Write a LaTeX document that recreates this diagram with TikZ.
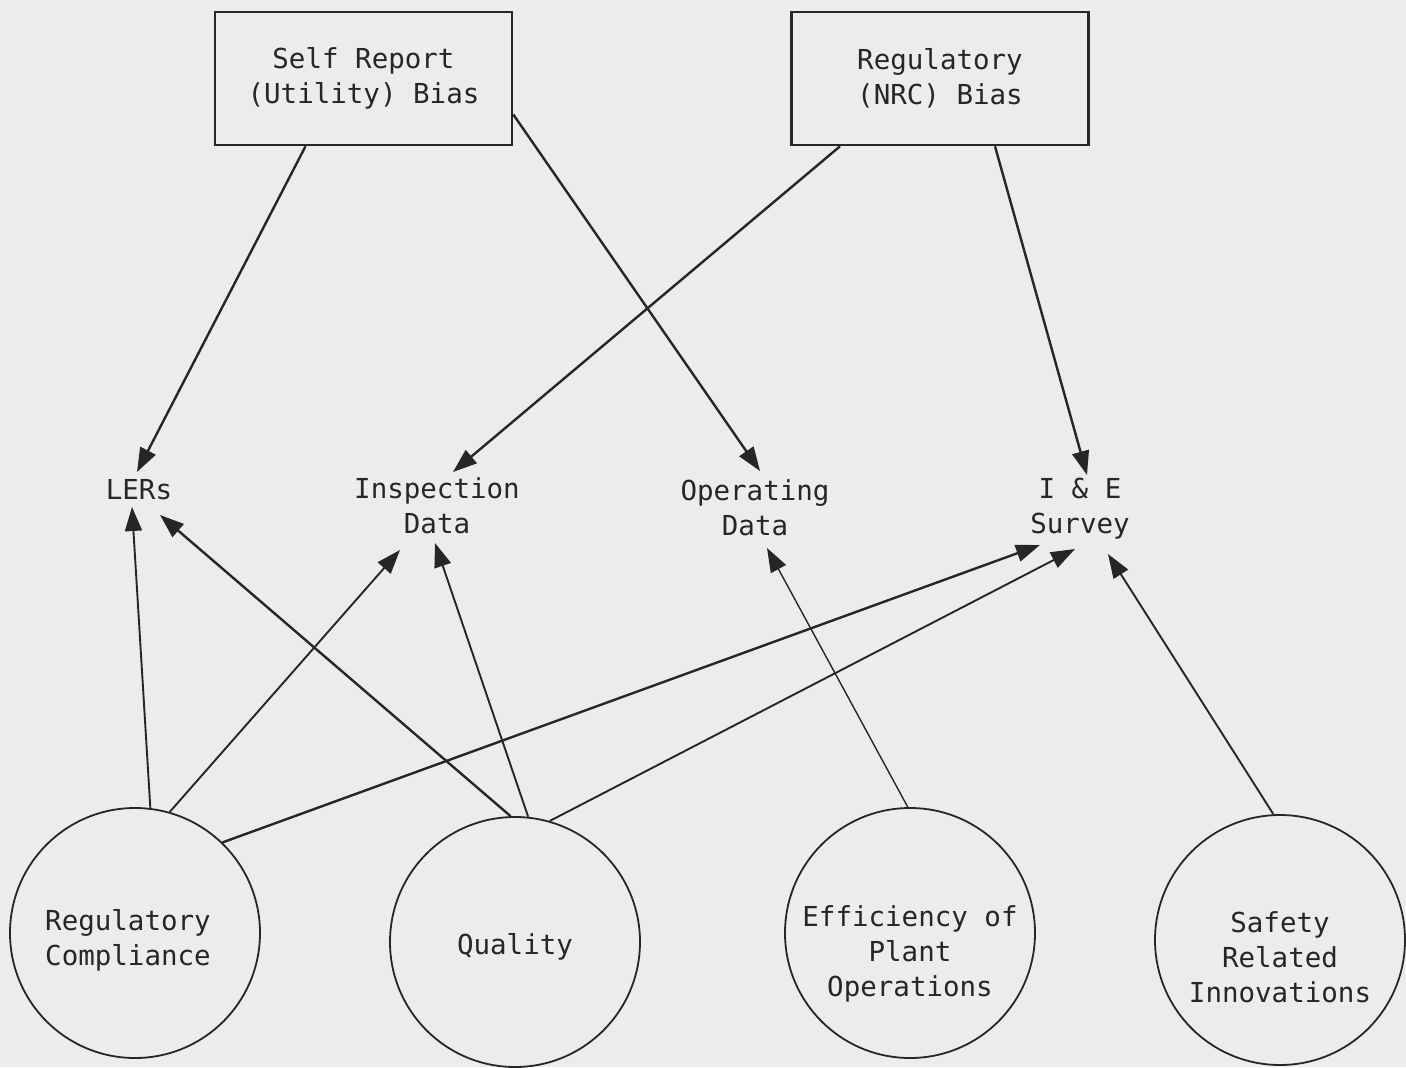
\documentclass[tikz,border=0pt]{standalone}
\usepackage{fontspec}
\setmonofont{DejaVu Sans Mono}
\usetikzlibrary{arrows.meta}
\definecolor{ink}{HTML}{262626}
\definecolor{paper}{HTML}{ECECEC}
\begin{document}
\begin{tikzpicture}[x=1pt,y=-1pt,
  every node/.style={font=\ttfamily\fontsize{27.5}{35}\selectfont, text=ink, align=center},
  bx/.style={draw=ink, line width=2.6pt, minimum width=297pt, minimum height=133pt, inner sep=0pt},
  circ/.style={draw=ink, circle, line width=1.8pt, minimum size=250pt, inner sep=0pt},
  lab/.style={inner sep=0pt},
  arr/.style={draw=ink, line width=2.4pt, -{Triangle[length=24pt,width=17pt]}},
  arrmid/.style={arr, line width=1.9pt},
  arrthin/.style={arr, line width=1.4pt}]
\fill[paper] (0,0) rectangle (1406,1067);
% boxes
\node[bx] (sr) at (363.5,78.5) {Self Report\\(Utility) Bias};
\node[bx] (rb) at (940,78.5) {Regulatory\\(NRC) Bias};
% middle labels
\node[lab] (ler) at (139,490) {LERs};
\node[lab] (insp) at (437,506) {Inspection\\Data};
\node[lab] (op) at (755,508) {Operating\\Data};
\node[lab] (ie) at (1080,509) {I \& E\\Survey};
% circles
\node[circ] (rc) at (135,933) {};
\node[circ] (q) at (515,942) {};
\node[circ] (eff) at (910,933) {};
\node[circ] (saf) at (1280,940) {};
\node[lab] (rct) at ([xshift=-7pt,yshift=-7pt]rc.center) {Regulatory\\Compliance};
\node[lab] (qt) at ([yshift=-5pt]q.center) {Quality};
\node[lab] (efft) at ([yshift=-21pt]eff.center) {Efficiency of\\Plant\\Operations};
\node[lab] (saft) at ([yshift=-17pt]saf.center) {Safety\\Related\\Innovations};
% top arrows
\draw[arr] ([xshift=-58pt]sr.south) -- ([xshift=-2pt,yshift=18pt]ler.center);
\draw[arr] ([yshift=-36pt]sr.east) -- ([xshift=5pt,yshift=37pt]op.center);
\draw[arr] ([xshift=-100pt]rb.south) -- ([xshift=16pt,yshift=34pt]insp.center);
\draw[arr] ([xshift=55pt]rb.south) -- ([xshift=7pt,yshift=34pt]ie.center);
% bottom arrows
\draw[arrmid] (rc.83) -- ([xshift=-7pt,yshift=-17pt]ler.center);
\draw[arr] (q.92) -- ([xshift=21pt,yshift=-25pt]ler.center);
\draw[arrmid] (rc.74) -- ([xshift=-37pt,yshift=-44pt]insp.center);
\draw[arrmid] (q.84) -- ([xshift=-2pt,yshift=-37pt]insp.center);
\draw[arr] (rc.46) -- ([xshift=-40pt,yshift=-36pt]ie.center);
\draw[arrmid] (q.74) -- ([xshift=-5pt,yshift=-40pt]ie.center);
\draw[arrthin] (eff.91) -- ([xshift=12pt,yshift=-40pt]op.center);
\draw[arrmid] (saf.93) -- ([xshift=28pt,yshift=-45pt]ie.center);
\end{tikzpicture}
\end{document}
